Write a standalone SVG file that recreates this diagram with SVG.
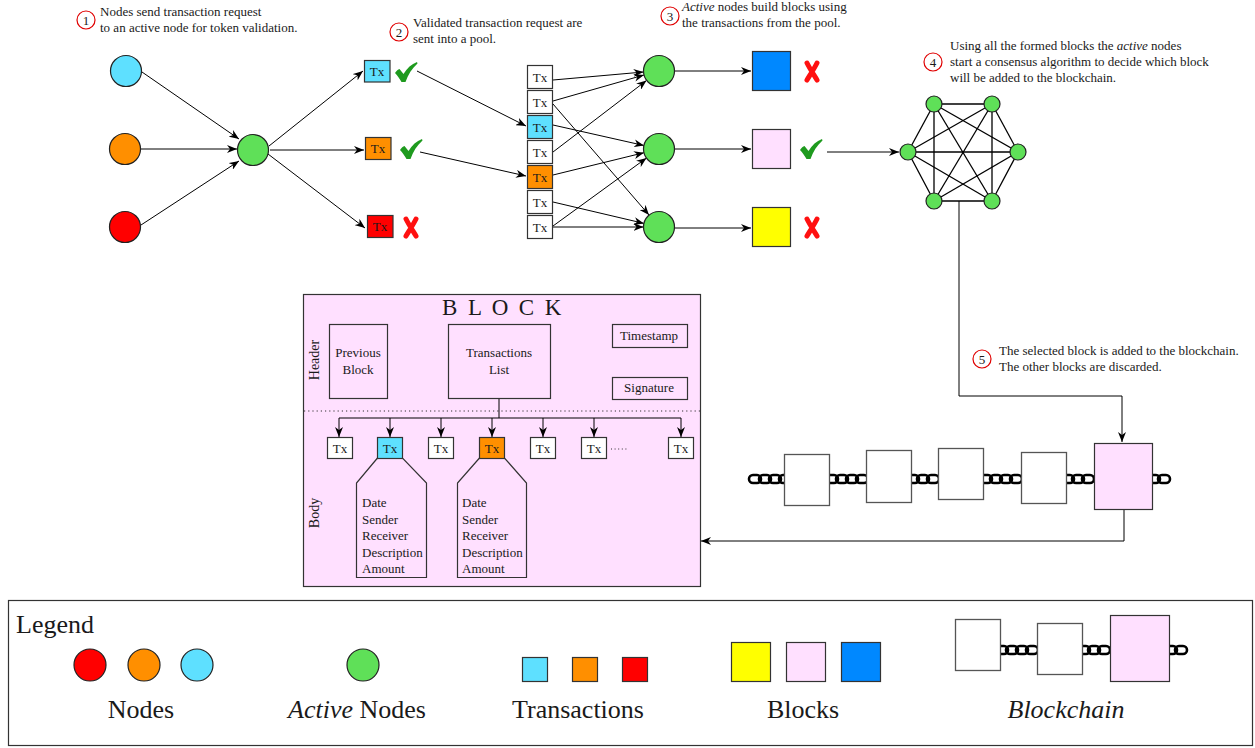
<svg xmlns="http://www.w3.org/2000/svg" width="1255" height="748" viewBox="0 0 1255 748">
<style>
text{font-family:"Liberation Serif","Times New Roman",serif;fill:#1a1a1a}
.s{font-size:13px}
.c{text-anchor:middle}
.lg{font-size:26px}
.it{font-style:italic}
.nd{stroke:#222;stroke-width:1.2}
.cy{fill:#5ee0ff}
.or{fill:#ff8f00}
.rd{fill:#ff0000}
.gr{fill:#5fe058}
.bl{fill:#0088ff}
.pk{fill:#ffe0ff}
.ye{fill:#ffff00}
.wh{fill:#ffffff}
.bx{stroke:#333;stroke-width:1.2}
.gb{stroke:#555;stroke-width:1.3}
.step{fill:#fff;stroke:#e00000;stroke-width:1.2}
.conn line,.conn path{stroke:#000;stroke-width:1;fill:none}
.arr{marker-end:url(#arr)}
.mesh line{stroke:#000;stroke-width:1.3}
.link{fill:none;stroke:#000;stroke-width:2.6}
</style>
<defs>
<marker id="arr" viewBox="0 0 10 8" refX="10" refY="4" markerWidth="10" markerHeight="8" orient="auto" markerUnits="userSpaceOnUse"><path d="M0,0 L10,4 L0,8 L3,4 Z" fill="#000"/></marker>
<path id="check" d="M0,11 C1.5,8.5 3,7.5 4.5,7 L8.5,12 C12,6 16.5,2 22,0 L22.5,1.5 C17,6.5 13,12.5 10.5,20 L6.5,20 C4.5,16.5 2.5,13.5 0,11 Z" fill="#1e9a1e"/>
<path id="cross" d="M3,2 C6,8 10,14 13,19 M13,2 C10,8 6,14 3,19" fill="none" stroke="#ff1010" stroke-width="5" stroke-linecap="round"/>
</defs>
<rect width="1255" height="748" fill="#fff"/>

<!-- step labels -->
<g id="step1"><circle class="step" cx="86" cy="20" r="9"/><text class="s c" x="86" y="24.5">1</text>
<text class="s" x="100" y="16">Nodes send transaction request</text><text class="s" x="100" y="32">to an active node for token validation.</text></g>
<g id="step2"><circle class="step" cx="399" cy="32" r="9"/><text class="s c" x="399" y="36.5">2</text>
<text class="s" x="413" y="27">Validated transaction request are</text><text class="s" x="413" y="43">sent into a pool.</text></g>
<g id="step3"><circle class="step" cx="670" cy="16" r="9"/><text class="s c" x="670" y="20.5">3</text>
<text class="s" x="682" y="11"><tspan class="it">Active</tspan> nodes build blocks using</text><text class="s" x="682" y="27">the transactions from the pool.</text></g>
<g id="step4"><circle class="step" cx="933" cy="62" r="9"/><text class="s c" x="933" y="66.5">4</text>
<text class="s" x="950" y="50">Using all the formed blocks the <tspan class="it">active</tspan> nodes</text><text class="s" x="950" y="66">start a consensus algorithm to decide which block</text><text class="s" x="950" y="82">will be added to the blockchain.</text></g>
<g id="step5"><circle class="step" cx="982" cy="359" r="9"/><text class="s c" x="982" y="363.5">5</text>
<text class="s" x="999" y="355">The selected block is added to the blockchain.</text><text class="s" x="999" y="371">The other blocks are discarded.</text></g>

<!-- connectors -->
<g id="connectors" class="conn">
<line class="arr" x1="142" y1="72" x2="239" y2="139"/>
<line class="arr" x1="141" y1="149" x2="237" y2="149"/>
<line class="arr" x1="141" y1="225" x2="239" y2="161"/>
<line class="arr" x1="269" y1="146" x2="363" y2="71"/>
<line class="arr" x1="270" y1="150" x2="364" y2="150"/>
<line class="arr" x1="268" y1="154" x2="365" y2="228"/>
<line class="arr" x1="417" y1="71" x2="526" y2="126"/>
<line class="arr" x1="420" y1="152" x2="526" y2="176"/>
<line class="arr" x1="553" y1="80" x2="643.5" y2="72"/>
<line class="arr" x1="553" y1="101" x2="644" y2="75"/>
<line class="arr" x1="553" y1="152" x2="646.5" y2="80.5"/>
<line class="arr" x1="553" y1="125" x2="644" y2="145.5"/>
<line class="arr" x1="553" y1="175" x2="644" y2="152.7"/>
<line class="arr" x1="553" y1="226" x2="646.5" y2="158"/>
<line class="arr" x1="553" y1="104" x2="649" y2="215"/>
<line class="arr" x1="553" y1="202" x2="644" y2="223.4"/>
<line class="arr" x1="553" y1="227" x2="643.5" y2="227"/>
<line class="arr" x1="675" y1="71" x2="751" y2="71"/>
<line class="arr" x1="675" y1="149" x2="751" y2="149"/>
<line class="arr" x1="675" y1="228" x2="751" y2="228"/>
<line class="arr" x1="827" y1="152" x2="899" y2="152"/>
<path class="arr" d="M959,201 V396 H1122 V442"/>
<path class="arr" d="M1124,510 V541 H701"/>
</g>

<!-- source nodes -->
<g id="node-cyan"><circle class="nd cy" cx="126" cy="71" r="15.5"/></g>
<g id="node-orange"><circle class="nd or" cx="125" cy="149" r="15.5"/></g>
<g id="node-red"><circle class="nd rd" cx="125" cy="227" r="15.5"/></g>
<g id="node-active"><circle class="nd gr" cx="253" cy="150" r="15.5"/></g>

<!-- validated tx -->
<g id="tx-cyan"><rect class="bx cy" x="364.5" y="60.5" width="25.5" height="21.5"/><text class="s c" x="377" y="75.5">Tx</text><use href="#check" x="395" y="62"/></g>
<g id="tx-orange"><rect class="bx or" x="365.5" y="137.5" width="25.5" height="22"/><text class="s c" x="378" y="153">Tx</text><use href="#check" x="400" y="139"/></g>
<g id="tx-red"><rect class="bx rd" x="367.5" y="215.5" width="25.5" height="22"/><text class="s c" x="380" y="231">Tx</text><use href="#cross" x="403" y="217"/></g>

<!-- pool -->
<g id="pool">
<rect class="bx wh" x="527.5" y="65.5" width="25" height="23"/><text class="s c" x="540" y="81.5">Tx</text>
<rect class="bx wh" x="527.5" y="90.5" width="25" height="23"/><text class="s c" x="540" y="106.5">Tx</text>
<rect class="bx cy" x="527.5" y="115.5" width="25" height="23"/><text class="s c" x="540" y="131.5">Tx</text>
<rect class="bx wh" x="527.5" y="140.5" width="25" height="23"/><text class="s c" x="540" y="156.5">Tx</text>
<rect class="bx or" x="527.5" y="165.5" width="25" height="23"/><text class="s c" x="540" y="181.5">Tx</text>
<rect class="bx wh" x="527.5" y="190.5" width="25" height="23"/><text class="s c" x="540" y="206.5">Tx</text>
<rect class="bx wh" x="527.5" y="215.5" width="25" height="23"/><text class="s c" x="540" y="231.5">Tx</text>
</g>

<!-- active nodes -->
<g id="active-1"><circle class="nd gr" cx="659" cy="71" r="15.5"/></g>
<g id="active-2"><circle class="nd gr" cx="659" cy="149" r="15.5"/></g>
<g id="active-3"><circle class="nd gr" cx="659" cy="227" r="15.5"/></g>

<!-- candidate blocks -->
<g id="block-blue"><rect class="bx bl" x="752.5" y="51.5" width="38" height="39"/><use href="#cross" x="804" y="61"/></g>
<g id="block-pink"><rect class="bx pk" x="752.5" y="129.5" width="38" height="39"/><use href="#check" x="800" y="139"/></g>
<g id="block-yellow"><rect class="bx ye" x="752.5" y="207.5" width="38" height="39"/><use href="#cross" x="804" y="217"/></g>

<!-- consensus -->
<g id="consensus">
<g class="mesh">
<line x1="934" y1="104" x2="992" y2="104"/><line x1="934" y1="104" x2="908" y2="152"/><line x1="934" y1="104" x2="1018" y2="152"/><line x1="934" y1="104" x2="934" y2="201"/><line x1="934" y1="104" x2="992" y2="201"/>
<line x1="992" y1="104" x2="908" y2="152"/><line x1="992" y1="104" x2="1018" y2="152"/><line x1="992" y1="104" x2="934" y2="201"/><line x1="992" y1="104" x2="992" y2="201"/>
<line x1="908" y1="152" x2="1018" y2="152"/><line x1="908" y1="152" x2="934" y2="201"/><line x1="908" y1="152" x2="992" y2="201"/>
<line x1="1018" y1="152" x2="934" y2="201"/><line x1="1018" y1="152" x2="992" y2="201"/>
<line x1="934" y1="201" x2="992" y2="201"/>
</g>
<circle class="nd gr" cx="934" cy="104" r="8"/><circle class="nd gr" cx="992" cy="104" r="8"/>
<circle class="nd gr" cx="908" cy="152" r="8"/><circle class="nd gr" cx="1018" cy="152" r="8"/>
<circle class="nd gr" cx="934" cy="201" r="8"/><circle class="nd gr" cx="992" cy="201" r="8"/>
</g>

<!-- blockchain -->
<g id="blockchain">
<g class="chain">
<rect class="link" x="749" y="475" width="12" height="8" rx="4"/><rect class="link" x="759" y="475" width="12" height="8" rx="4"/><rect class="link" x="769" y="475" width="12" height="8" rx="4"/><rect class="link" x="779" y="475" width="12" height="8" rx="4"/>
<rect class="link" x="826" y="475" width="12" height="8" rx="4"/><rect class="link" x="836" y="475" width="12" height="8" rx="4"/><rect class="link" x="846" y="475" width="12" height="8" rx="4"/><rect class="link" x="856" y="475" width="12" height="8" rx="4"/>
<rect class="link" x="907" y="475" width="12" height="8" rx="4"/><rect class="link" x="917" y="475" width="12" height="8" rx="4"/><rect class="link" x="927" y="475" width="12" height="8" rx="4"/>
<rect class="link" x="980" y="475" width="12" height="8" rx="4"/><rect class="link" x="990" y="475" width="12" height="8" rx="4"/><rect class="link" x="1000" y="475" width="12" height="8" rx="4"/><rect class="link" x="1010" y="475" width="12" height="8" rx="4"/>
<rect class="link" x="1062" y="475" width="12" height="8" rx="4"/><rect class="link" x="1072" y="475" width="12" height="8" rx="4"/><rect class="link" x="1082" y="475" width="12" height="8" rx="4"/>
<rect class="link" x="1148" y="475" width="12" height="8" rx="4"/><rect class="link" x="1158" y="475" width="12" height="8" rx="4"/>
</g>
<rect class="gb wh" x="784.5" y="454.5" width="45" height="51"/>
<rect class="gb wh" x="866.5" y="450.5" width="45" height="52"/>
<rect class="gb wh" x="938.5" y="448.5" width="45" height="51"/>
<rect class="gb wh" x="1021.5" y="452.5" width="45" height="51"/>
<rect class="bx pk" x="1094.5" y="443.5" width="58" height="66"/>
</g>

<!-- block detail -->
<g id="block-detail">
<rect class="bx pk" x="303.5" y="294.5" width="397" height="292"/>
<text x="442" y="315" style="font-size:23px;letter-spacing:2.4px">B L O C K</text>
<text transform="translate(319,360) rotate(-90)" class="c" style="font-size:14px">Header</text>
<text transform="translate(319,513) rotate(-90)" class="c" style="font-size:14px">Body</text>
<rect class="bx pk" x="329.5" y="324.5" width="58" height="74"/><text class="s c" x="358" y="357">Previous</text><text class="s c" x="358" y="374">Block</text>
<rect class="bx pk" x="448.5" y="324.5" width="102" height="74"/><text class="s c" x="499" y="357">Transactions</text><text class="s c" x="499" y="374">List</text>
<rect class="bx pk" x="612.5" y="324.5" width="75" height="23"/><text class="s c" x="649" y="340">Timestamp</text>
<rect class="bx pk" x="612.5" y="377.5" width="75" height="22"/><text class="s c" x="649" y="392">Signature</text>
<line x1="304" y1="411" x2="700" y2="411" stroke="#333" stroke-width="1" stroke-dasharray="1.2,3"/>
<g class="conn">
<path d="M499,399 V418 M339,418 H681"/>
<line class="arr" x1="339" y1="418" x2="339" y2="437"/>
<line class="arr" x1="390" y1="418" x2="390" y2="437"/>
<line class="arr" x1="441" y1="418" x2="441" y2="437"/>
<line class="arr" x1="492" y1="418" x2="492" y2="437"/>
<line class="arr" x1="543" y1="418" x2="543" y2="437"/>
<line class="arr" x1="594" y1="418" x2="594" y2="437"/>
<line class="arr" x1="681" y1="418" x2="681" y2="437"/>
</g>
<polygon class="bx pk" points="377.5,458 356.5,483 356.5,577.5 426.5,577.5 426.5,483 402.5,458"/>
<polygon class="bx pk" points="479.5,458 457.5,483 457.5,577.5 526.5,577.5 526.5,483 504.5,458"/>
<rect class="bx wh" x="327.5" y="437.5" width="25" height="21"/><text class="s c" x="340" y="452.5">Tx</text>
<rect class="bx cy" x="377.5" y="437.5" width="25" height="21"/><text class="s c" x="390" y="452.5">Tx</text>
<rect class="bx wh" x="428.5" y="437.5" width="25" height="21"/><text class="s c" x="441" y="452.5">Tx</text>
<rect class="bx or" x="479.5" y="437.5" width="25" height="21"/><text class="s c" x="492" y="452.5">Tx</text>
<rect class="bx wh" x="530.5" y="437.5" width="25" height="21"/><text class="s c" x="543" y="452.5">Tx</text>
<rect class="bx wh" x="581.5" y="437.5" width="25" height="21"/><text class="s c" x="594" y="452.5">Tx</text>
<line x1="611" y1="449" x2="628" y2="449" stroke="#333" stroke-width="1" stroke-dasharray="1,2.6"/>
<rect class="bx wh" x="668.5" y="437.5" width="25" height="21"/><text class="s c" x="681" y="452.5">Tx</text>
<text class="s" x="362" y="507">Date</text><text class="s" x="362" y="523.5">Sender</text><text class="s" x="362" y="540">Receiver</text><text class="s" x="362" y="556.5">Description</text><text class="s" x="362" y="573">Amount</text>
<text class="s" x="462" y="507">Date</text><text class="s" x="462" y="523.5">Sender</text><text class="s" x="462" y="540">Receiver</text><text class="s" x="462" y="556.5">Description</text><text class="s" x="462" y="573">Amount</text>
</g>

<!-- legend -->
<g id="legend">
<rect x="8.5" y="600.5" width="1244" height="145" fill="#fff" stroke="#333" stroke-width="1.2"/>
<text class="lg" x="16" y="633">Legend</text>
<circle class="nd rd" cx="90" cy="665" r="16"/><circle class="nd or" cx="144" cy="665" r="16"/><circle class="nd cy" cx="197" cy="665" r="16"/>
<text class="lg c" x="141" y="718">Nodes</text>
<circle class="nd gr" cx="363" cy="665" r="16"/>
<text class="lg c" x="357" y="718"><tspan class="it">Active</tspan> Nodes</text>
<rect class="bx cy" x="522.5" y="657.5" width="25" height="24"/><rect class="bx or" x="572.5" y="657.5" width="25" height="24"/><rect class="bx rd" x="622.5" y="657.5" width="25" height="24"/>
<text class="lg c" x="578" y="718">Transactions</text>
<rect class="bx ye" x="731.5" y="642.5" width="39" height="39"/><rect class="bx pk" x="786.5" y="642.5" width="39" height="39"/><rect class="bx bl" x="841.5" y="642.5" width="39" height="39"/>
<text class="lg c" x="803" y="718">Blocks</text>
<rect class="link" x="996" y="646" width="12" height="8" rx="4"/><rect class="link" x="1006" y="646" width="12" height="8" rx="4"/><rect class="link" x="1016" y="646" width="12" height="8" rx="4"/><rect class="link" x="1026" y="646" width="12" height="8" rx="4"/>
<rect class="link" x="1078" y="646" width="12" height="8" rx="4"/><rect class="link" x="1088" y="646" width="12" height="8" rx="4"/><rect class="link" x="1098" y="646" width="12" height="8" rx="4"/>
<rect class="link" x="1165" y="646" width="12" height="8" rx="4"/><rect class="link" x="1175" y="646" width="12" height="8" rx="4"/>
<rect class="gb wh" x="955.5" y="619.5" width="45" height="51"/><rect class="gb wh" x="1037.5" y="623.5" width="45" height="51"/><rect class="bx pk" x="1110.5" y="615.5" width="59" height="66"/>
<text class="lg c it" x="1066" y="718">Blockchain</text>
</g>
</svg>
